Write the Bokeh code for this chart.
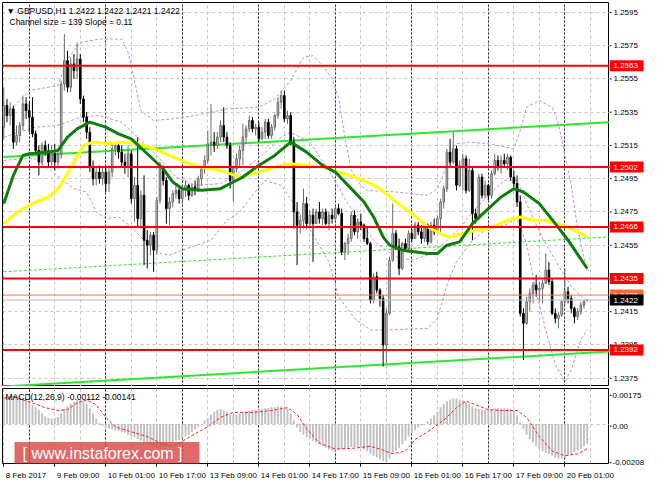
from bokeh.plotting import figure
from bokeh.models import (Range1d, FixedTicker, Grid, Label, Span, ColumnDataSource)
from bokeh.layouts import column, row
from bokeh.embed import file_html
from bokeh.resources import INLINE
from bokeh.core.properties import value

FONT = "Liberation Sans"

# ---------------- data ----------------
opens = [1.2526,1.2539,1.2533,1.2537,1.2517,1.2521,1.2527,1.2540,1.2536,1.2532,
1.2522,1.2512,1.2505,1.2515,1.2512,1.2505,1.2510,1.2505,1.2510,1.2552,
1.2566,1.2550,1.2564,1.2560,1.2567,1.2543,1.2532,1.2523,1.2502,1.2495,
1.2499,1.2495,1.2499,1.2492,1.2499,1.2513,1.2515,1.2511,1.2505,1.2503,
1.2510,1.2483,1.2491,1.2471,1.2485,1.2458,1.2455,1.2461,1.2452,1.2482,
1.2502,1.2494,1.2477,1.2481,1.2486,1.2488,1.2483,1.2488,1.2491,1.2485,
1.2490,1.2488,1.2495,1.2501,1.2506,1.2516,1.2517,1.2515,1.2520,1.2527,
1.2520,1.2515,1.2494,1.2501,1.2507,1.2512,1.2520,1.2525,1.2530,1.2525,
1.2526,1.2519,1.2523,1.2529,1.2521,1.2526,1.2533,1.2541,1.2545,1.2531,
1.2533,1.2517,1.2475,1.2467,1.2470,1.2480,1.2468,1.2473,1.2468,1.2475,
1.2471,1.2475,1.2468,1.2473,1.2471,1.2477,1.2474,1.2451,1.2456,1.2459,
1.2473,1.2463,1.2469,1.2467,1.2459,1.2456,1.2422,1.2436,1.2428,1.2423,
1.2395,1.2414,1.2446,1.2462,1.2454,1.2441,1.2456,1.2453,1.2462,1.2459,
1.2467,1.2463,1.2459,1.2467,1.2457,1.2467,1.2463,1.2471,1.2481,1.2489,
1.2511,1.2505,1.2513,1.2491,1.2503,1.2507,1.2488,1.2500,1.2474,1.2471,
1.2496,1.2485,1.2491,1.2485,1.2498,1.2506,1.2502,1.2506,1.2504,1.2508,
1.2496,1.2492,1.2481,1.2414,1.2408,1.2421,1.2426,1.2431,1.2428,1.2429,
1.2432,1.2440,1.2433,1.2414,1.2411,1.2413,1.2421,1.2427,1.2423,1.2417,
1.2412,1.2415,1.2419,1.2422]
highs = [1.2550,1.2543,1.2541,1.2539,1.2527,1.2529,1.2545,1.2544,1.2541,1.2544,
1.2524,1.2515,1.2517,1.2518,1.2516,1.2515,1.2516,1.2512,1.2554,1.2582,
1.2572,1.2568,1.2570,1.2577,1.2570,1.2545,1.2535,1.2526,1.2506,1.2502,
1.2503,1.2502,1.2502,1.2503,1.2516,1.2517,1.2517,1.2515,1.2510,1.2515,
1.2512,1.2496,1.2520,1.2488,1.2497,1.2464,1.2463,1.2463,1.2484,1.2505,
1.2503,1.2496,1.2484,1.2488,1.2491,1.2490,1.2491,1.2494,1.2492,1.2492,
1.2494,1.2497,1.2503,1.2509,1.2524,1.2540,1.2523,1.2523,1.2530,1.2538,
1.2523,1.2517,1.2503,1.2510,1.2515,1.2528,1.2527,1.2533,1.2532,1.2528,
1.2529,1.2526,1.2531,1.2531,1.2528,1.2534,1.2544,1.2548,1.2548,1.2536,
1.2535,1.2520,1.2481,1.2473,1.2489,1.2484,1.2476,1.2477,1.2477,1.2481,
1.2477,1.2477,1.2475,1.2477,1.2479,1.2480,1.2477,1.2457,1.2462,1.2475,
1.2476,1.2471,1.2474,1.2468,1.2466,1.2457,1.2438,1.2439,1.2429,1.2425,
1.2417,1.2448,1.2480,1.2464,1.2459,1.2457,1.2459,1.2464,1.2465,1.2469,
1.2469,1.2467,1.2469,1.2468,1.2469,1.2471,1.2473,1.2483,1.2491,1.2513,
1.2519,1.2523,1.2515,1.2506,1.2510,1.2509,1.2507,1.2502,1.2477,1.2498,
1.2498,1.2494,1.2492,1.2500,1.2510,1.2509,1.2509,1.2510,1.2510,1.2509,
1.2500,1.2497,1.2485,1.2417,1.2424,1.2429,1.2433,1.2437,1.2433,1.2434,
1.2450,1.2445,1.2435,1.2417,1.2415,1.2422,1.2441,1.2430,1.2425,1.2418,
1.2417,1.2421,1.2422,1.2422]
lows = [1.2519,1.2529,1.2527,1.2513,1.2515,1.2517,1.2524,1.2531,1.2523,1.2520,
1.2510,1.2497,1.2503,1.2509,1.2502,1.2503,1.2500,1.2501,1.2507,1.2548,
1.2547,1.2547,1.2555,1.2555,1.2540,1.2529,1.2519,1.2499,1.2491,1.2491,
1.2492,1.2491,1.2487,1.2487,1.2496,1.2509,1.2507,1.2502,1.2498,1.2496,
1.2480,1.2469,1.2466,1.2465,1.2443,1.2441,1.2449,1.2439,1.2449,1.2480,
1.2491,1.2468,1.2467,1.2478,1.2483,1.2480,1.2480,1.2484,1.2482,1.2484,
1.2485,1.2487,1.2491,1.2498,1.2504,1.2509,1.2511,1.2513,1.2517,1.2517,
1.2513,1.2489,1.2481,1.2499,1.2502,1.2503,1.2516,1.2523,1.2523,1.2521,
1.2517,1.2518,1.2519,1.2519,1.2519,1.2524,1.2531,1.2537,1.2529,1.2528,
1.2515,1.2465,1.2443,1.2462,1.2465,1.2465,1.2466,1.2445,1.2468,1.2468,
1.2467,1.2467,1.2464,1.2468,1.2470,1.2473,1.2449,1.2446,1.2449,1.2457,
1.2461,1.2459,1.2464,1.2457,1.2455,1.2420,1.2420,1.2426,1.2418,1.2382,
1.2384,1.2413,1.2445,1.2452,1.2437,1.2440,1.2451,1.2451,1.2457,1.2459,
1.2461,1.2456,1.2457,1.2455,1.2456,1.2461,1.2462,1.2463,1.2477,1.2487,
1.2502,1.2504,1.2488,1.2490,1.2488,1.2486,1.2487,1.2458,1.2468,1.2470,
1.2483,1.2483,1.2482,1.2483,1.2497,1.2500,1.2498,1.2502,1.2500,1.2494,
1.2490,1.2478,1.2412,1.2386,1.2407,1.2415,1.2420,1.2424,1.2421,1.2420,
1.2432,1.2431,1.2413,1.2408,1.2405,1.2412,1.2419,1.2420,1.2414,1.2408,
1.2410,1.2413,1.2417,1.2421]
closes = [1.2539,1.2533,1.2537,1.2517,1.2521,1.2527,1.2540,1.2536,1.2532,1.2522,
1.2512,1.2505,1.2515,1.2512,1.2505,1.2510,1.2505,1.2510,1.2552,1.2566,
1.2550,1.2564,1.2560,1.2567,1.2543,1.2532,1.2523,1.2502,1.2495,1.2499,
1.2495,1.2499,1.2492,1.2499,1.2513,1.2515,1.2511,1.2505,1.2503,1.2510,
1.2483,1.2491,1.2471,1.2485,1.2458,1.2455,1.2461,1.2452,1.2482,1.2502,
1.2494,1.2477,1.2481,1.2486,1.2488,1.2483,1.2488,1.2491,1.2485,1.2490,
1.2488,1.2495,1.2501,1.2506,1.2516,1.2517,1.2515,1.2520,1.2527,1.2520,
1.2515,1.2494,1.2501,1.2507,1.2512,1.2520,1.2525,1.2530,1.2525,1.2526,
1.2519,1.2523,1.2529,1.2521,1.2526,1.2533,1.2541,1.2545,1.2531,1.2533,
1.2517,1.2475,1.2467,1.2470,1.2480,1.2468,1.2473,1.2468,1.2475,1.2471,
1.2475,1.2468,1.2473,1.2471,1.2477,1.2474,1.2451,1.2456,1.2459,1.2473,
1.2463,1.2469,1.2467,1.2459,1.2456,1.2422,1.2436,1.2428,1.2423,1.2395,
1.2414,1.2446,1.2462,1.2454,1.2441,1.2456,1.2453,1.2462,1.2459,1.2467,
1.2463,1.2459,1.2467,1.2457,1.2467,1.2463,1.2471,1.2481,1.2489,1.2511,
1.2505,1.2513,1.2491,1.2503,1.2507,1.2488,1.2500,1.2474,1.2471,1.2496,
1.2485,1.2491,1.2485,1.2498,1.2506,1.2502,1.2506,1.2504,1.2508,1.2496,
1.2492,1.2481,1.2414,1.2408,1.2421,1.2426,1.2431,1.2428,1.2429,1.2432,
1.2440,1.2433,1.2414,1.2411,1.2413,1.2421,1.2427,1.2423,1.2417,1.2412,
1.2415,1.2419,1.2421,1.2422]
bars = list(range(len(closes)))

# moving averages (bar index, price)
green_bars = [0,3,6,8,14,17,20,23,27,32,36,40,45,50,53,56,62,68,72,75,80,85,90,95,100,104,108,113,116,119,
              121,125,133,136,139,143,147,152,156,160,163,168,173,177,183]
green_vals = [1.2480,1.2497,1.2509,1.2510,1.2511,1.2512,1.2520,1.2525,1.2529,1.2526,1.2522,1.2519,1.2510,1.2501,
              1.2493,1.2489,1.2488,1.2489,1.2493,1.2496,1.2503,1.2509,1.2517,1.2511,1.2503,1.2499,1.2491,1.2481,
              1.2472,1.2460,1.2455,1.2452,1.2450,1.2450,1.2455,1.2457,1.2468,1.2477,1.2484,1.2489,1.2487,1.2480,
              1.2468,1.2458,1.2441]
yellow_bars = [0,3,6,10,14,17,19,22,25,28,33,37,42,47,52,57,62,68,74,80,85,90,95,100,105,110,114,118,123,128,
               133,138,140,144,148,152,158,162,166,170,175,180,183]
yellow_vals = [1.2468,1.2473,1.2477,1.2481,1.2484,1.2489,1.2495,1.2505,1.2515,1.2517,1.2516,1.2517,1.2516,1.2513,
               1.2509,1.2505,1.2502,1.2500,1.2496,1.2499,1.2502,1.2504,1.2503,1.2502,1.2499,1.2496,1.2493,1.2489,
               1.2481,1.2474,1.2466,1.2461,1.2460,1.2462,1.2464,1.2465,1.2470,1.2472,1.2470,1.2470,1.2467,1.2463,
               1.2460]
# Bollinger bands (upper / middle / lower)
bbu_bars = [0,6,8,17,20,24,30,37,39,41,43,47,53,60,70,80,85,90,94,97,100,103,105,107,109,112,114,123,133,136,
            138,140,142,146,152,160,162,164,168,172,174,176,178,180,183]
bbu_vals = [1.2532,1.2544,1.2548,1.2551,1.2567,1.2577,1.2579,1.2579,1.2571,1.2554,1.2536,1.2530,1.2531,1.2533,
            1.2537,1.2538,1.2543,1.2554,1.2568,1.2569,1.2563,1.2555,1.2544,1.2520,1.2500,1.2491,1.2488,1.2487,
            1.2485,1.2489,1.2498,1.2513,1.2516,1.2517,1.2516,1.2513,1.2524,1.2538,1.2542,1.2538,1.2528,1.2509,
            1.2491,1.2465,1.2439]
bbm_bars = [0,10,17,24,30,37,42,48,54,60,68,75,81,87,90,96,102,107,111,117,123,128,133,138,143,148,152,157,
            161,164,169,173,178,183]
bbm_vals = [1.2520,1.2526,1.2527,1.2532,1.2533,1.2529,1.2520,1.2509,1.2496,1.2491,1.2492,1.2500,1.2509,1.2520,
            1.2523,1.2517,1.2500,1.2483,1.2471,1.2456,1.2448,1.2446,1.2449,1.2456,1.2465,1.2477,1.2485,1.2494,
            1.2494,1.2480,1.2459,1.2446,1.2430,1.2421]
bbl_bars = [0,6,10,18,22,26,29,32,36,40,43,49,52,56,62,65,70,74,78,82,87,91,98,102,105,110,115,120,133,136,
            139,142,147,151,157,161,164,167,170,173,176,178,181,183]
bbl_vals = [1.2506,1.2507,1.2507,1.2495,1.2489,1.2487,1.2475,1.2471,1.2472,1.2466,1.2460,1.2450,1.2449,1.2452,
            1.2456,1.2458,1.2470,1.2475,1.2485,1.2494,1.2491,1.2480,1.2458,1.2445,1.2424,1.2411,1.2404,1.2404,
            1.2405,1.2411,1.2431,1.2445,1.2458,1.2464,1.2467,1.2471,1.2456,1.2427,1.2404,1.2383,1.2373,1.2380,
            1.2398,1.2404]

# regression channel (start / end)
channel_bars = [0, 190]
channel_upper = [1.2508, 1.2529]
channel_mid = [1.2439, 1.2460]
channel_lower = [1.2370, 1.2391]

levels = [1.2563, 1.2502, 1.2466, 1.2435, 1.2392]
orange_level = 1.2425
bid_level = 1.2422

price_ticks = [1.2375, 1.2395, 1.2415, 1.2435, 1.2455, 1.2475, 1.2495, 1.2515, 1.2535, 1.2555, 1.2575, 1.2595]

time_ticks = [0, 16, 32, 48, 64, 80, 96, 112, 128, 144, 160, 176]
time_labels = ["8 Feb 2017", "9 Feb 09:00", "10 Feb 01:00", "10 Feb 17:00", "13 Feb 09:00", "14 Feb 01:00",
               "14 Feb 17:00", "15 Feb 09:00", "16 Feb 01:00", "16 Feb 17:00", "17 Feb 09:00", "20 Feb 01:00"]
grid_bars = list(range(0, 191, 8))
separator_bars = [8, 32, 56, 80, 104, 128, 152, 176]

macd_hist = [0.00148,0.00150,0.00155,0.00160,0.00165,0.00160,0.00150,0.00140,0.00125,0.00110,
0.00095,0.00080,0.00060,0.00045,0.00035,0.00030,0.00035,0.00040,0.00060,0.00085,
0.00100,0.00115,0.00125,0.00135,0.00140,0.00130,0.00115,0.00090,0.00060,0.00030,
0.00005,-0.00010,-0.00020,-0.00025,-0.00030,-0.00035,-0.00040,-0.00045,-0.00050,-0.00060,
-0.00070,-0.00075,-0.00085,-0.00095,-0.00105,-0.00115,-0.00125,-0.00130,-0.00135,-0.00130,
-0.00125,-0.00115,-0.00110,-0.00105,-0.00095,-0.00090,-0.00080,-0.00070,-0.00060,-0.00045,
-0.00030,-0.00015,0.00000,0.00020,0.00035,0.00055,0.00070,0.00080,0.00085,0.00080,
0.00070,0.00055,0.00050,0.00055,0.00060,0.00065,0.00070,0.00075,0.00080,0.00080,
0.00085,0.00085,0.00090,0.00090,0.00095,0.00095,0.00100,0.00100,0.00095,0.00085,
0.00060,0.00020,-0.00020,-0.00045,-0.00060,-0.00075,-0.00085,-0.00095,-0.00105,-0.00115,
-0.00125,-0.00135,-0.00145,-0.00150,-0.00150,-0.00145,-0.00145,-0.00140,-0.00135,-0.00130,
-0.00130,-0.00130,-0.00135,-0.00145,-0.00155,-0.00170,-0.00180,-0.00190,-0.00200,-0.00210,
-0.00215,-0.00195,-0.00170,-0.00150,-0.00135,-0.00115,-0.00095,-0.00070,-0.00050,-0.00035,
-0.00020,-0.00010,0.00000,0.00015,0.00030,0.00050,0.00070,0.00095,0.00115,0.00130,
0.00140,0.00145,0.00145,0.00140,0.00135,0.00125,0.00115,0.00100,0.00090,0.00085,
0.00080,0.00080,0.00080,0.00085,0.00090,0.00090,0.00090,0.00090,0.00088,0.00085,
0.00075,0.00050,0.00010,-0.00030,-0.00060,-0.00085,-0.00105,-0.00125,-0.00140,-0.00155,
-0.00165,-0.00170,-0.00180,-0.00190,-0.00195,-0.00195,-0.00190,-0.00180,-0.00170,-0.00160,
-0.00150,-0.00140,-0.00125,-0.00112]
sig_bars = [0,3,6,9,13,17,20,23,26,29,32,35,40,45,50,53,56,60,64,68,72,78,84,89,92,95,99,104,110,115,
            118,122,126,129,133,138,142,145,148,152,156,161,164,168,172,176,180,183]
sig_vals = [0.00148,0.00158,0.00137,0.00120,0.00093,0.00077,0.00082,0.00120,0.00137,0.00109,0.00038,-0.00016,
            -0.00044,-0.00071,-0.00115,-0.00126,-0.00098,-0.00055,-0.00016,0.00038,0.00066,0.00066,0.00077,
            0.00093,0.00055,-0.00027,-0.00109,-0.00142,-0.00137,-0.00126,-0.00142,-0.00169,-0.00153,-0.00087,
            -0.00044,0.00022,0.00093,0.00131,0.00109,0.00082,0.00077,0.00077,0.00038,-0.00071,-0.00153,
            -0.00180,-0.00169,-0.00141]
macd_ticks = [0.00175, 0.0, -0.00208]
macd_tick_labels = ["0.00175", "0.00", "-0.00208"]

# ---------------- layout ----------------
FW = 607          # frame width of the panels
MAIN_H = 384
MACD_H = 75
RB = 39           # width of the right-hand price-scale column
GAP = 2           # gap between price frame and MACD frame
EXT_T = 2         # MACD scale column reaches this far above the MACD frame
EXT_B = 7         # ... and this far below it
X0, X1 = -0.4, 190.0
PY0, PY1 = 1.2370, 1.2601
MY0, MY1 = -0.00224, 0.00202
xr = Range1d(X0, X1)
pyr = Range1d(PY0, PY1)

GRID_C = "#c4c4c4"


def base_fig(x_axis_location=None, **kw):
    f = figure(output_backend="svg", toolbar_location=None, x_axis_location=x_axis_location,
               y_axis_location=None, background_fill_color="white", border_fill_color="white", **kw)
    f.grid.visible = False
    return f


def add_vgrid(fig):
    fig.add_layout(Grid(dimension=0, ticker=FixedTicker(ticks=grid_bars),
                        grid_line_color=GRID_C, grid_line_dash="3 3", grid_line_width=1))
    fig.add_layout(Grid(dimension=0, ticker=FixedTicker(ticks=separator_bars),
                        grid_line_color="#202020", grid_line_dash="2 2", grid_line_width=1))


# ---- main price panel ----
p = base_fig(frame_width=FW, frame_height=MAIN_H, x_range=xr, y_range=pyr,
             min_border_left=2, min_border_right=0, min_border_top=2, min_border_bottom=0)
p.outline_line_color = "black"
p.outline_line_width = 1
add_vgrid(p)
p.add_layout(Grid(dimension=1, ticker=FixedTicker(ticks=price_ticks),
                  grid_line_color=GRID_C, grid_line_dash="3 3"))

band_c = "#c88ae6"
p.line(bbu_bars, bbu_vals, line_color=band_c, line_dash="3 2", line_width=1)
p.line(bbm_bars, bbm_vals, line_color=band_c, line_dash="3 2", line_width=1)
p.line(bbl_bars, bbl_vals, line_color=band_c, line_dash="3 2", line_width=1)

lime = "#2ee82e"
p.line(channel_bars, channel_upper, line_color=lime, line_width=2)
p.line(channel_bars, channel_lower, line_color=lime, line_width=2)
p.line(channel_bars, channel_mid, line_color=lime, line_width=1, line_dash="3 2")

up = [c >= o for o, c in zip(opens, closes)]
src = ColumnDataSource(dict(
    x=bars, h=highs, l=lows,
    top=[max(o, c) for o, c in zip(opens, closes)],
    bot=[min(o, c) for o, c in zip(opens, closes)],
    fill=["#d4d4d4" if u else "black" for u in up],
    edge=["#6a6a6a" if u else "black" for u in up],
))
p.segment(x0="x", y0="l", x1="x", y1="h", line_color="edge", line_width=1, source=src)
p.vbar(x="x", width=0.5, top="top", bottom="bot", fill_color="fill", line_color="edge",
       line_width=1, source=src)

p.line(yellow_bars, yellow_vals, line_color="#ffff00", line_width=3)
p.line(green_bars, green_vals, line_color="#0d7d0d", line_width=3)

for lv in levels:
    p.add_layout(Span(location=lv, dimension="width", line_color="#ff0000", line_width=2))
p.add_layout(Span(location=orange_level, dimension="width", line_color="#ff7043", line_width=1))
p.add_layout(Span(location=bid_level, dimension="width", line_color="#bdbdbd", line_width=1))

p.add_layout(Label(x=4, y=MAIN_H - 3, x_units="screen", y_units="screen",
                   text="\u25BC GBPUSD,H1  1.2422 1.2422 1.2421 1.2422",
                   text_font=FONT, text_font_size="8.5px", text_color="black", text_baseline="top"))
p.add_layout(Label(x=7, y=MAIN_H - 14, x_units="screen", y_units="screen",
                   text="Channel size = 139 Slope = 0.11",
                   text_font=FONT, text_font_size="8.5px", text_color="black", text_baseline="top"))

# ---- price scale column (right of main panel) ----
pl = base_fig(frame_width=RB, frame_height=MAIN_H, x_range=Range1d(0, RB), y_range=pyr,
              min_border_left=0, min_border_right=0, min_border_top=2, min_border_bottom=0,
              outline_line_color=None)
n_pt = len(price_ticks)
pl.segment(x0=[0] * n_pt, y0=price_ticks, x1=[2] * n_pt, y1=price_ticks, line_color="black", line_width=1)
pl.text(x=[4] * n_pt, y=price_ticks, text=[f"{t:.4f}" for t in price_ticks],
        text_font=value(FONT), text_font_size="8px", text_color="black",
        text_align="left", text_baseline="middle")


def price_tag(fig, y, fill):
    fig.rect(x=[17], y=[y], width=34, height=11, height_units="screen",
             fill_color=fill, line_color=None)
    fig.text(x=[4], y=[y], text=[f"{y:.4f}"], text_font=value(FONT), text_font_size="8px",
             text_color="white", text_align="left", text_baseline="middle")


for lv in levels:
    price_tag(pl, lv, "#ff0000")
price_tag(pl, orange_level, "#ff6a3d")
price_tag(pl, bid_level, "black")

# ---- MACD panel ----
m = base_fig(x_axis_location="below", frame_width=FW, frame_height=MACD_H, x_range=xr,
             y_range=Range1d(MY0, MY1),
             min_border_left=2, min_border_right=0, min_border_top=GAP, min_border_bottom=EXT_B)
m.outline_line_color = "black"
m.outline_line_width = 1
mx = m.xaxis[0]
mx.ticker = FixedTicker(ticks=time_ticks)
mx.major_tick_out = 3
mx.major_tick_in = 0
mx.minor_tick_out = 0
mx.minor_tick_in = 0
mx.axis_line_color = None
mx.major_label_standoff = 0
mx.major_label_text_font_size = "1px"
mx.major_label_text_alpha = 0
add_vgrid(m)
m.add_layout(Grid(dimension=1, ticker=FixedTicker(ticks=[0.0]), grid_line_color=GRID_C, grid_line_dash="3 3"))

m.vbar(x=bars, top=macd_hist, bottom=0, width=0.6, fill_color="#c0c0c0", line_color=None)
m.line(sig_bars, sig_vals, line_color="#ff2020", line_dash="3 2", line_width=1)

m.add_layout(Label(x=3, y=MACD_H - 3, x_units="screen", y_units="screen",
                   text="MACD(12,26,9) -0.00112 -0.00141",
                   text_font=FONT, text_font_size="8.5px", text_color="black", text_baseline="top"))
m.add_layout(Label(x=12, y=10, x_units="screen", y_units="screen",
                   text="[  www.instaforex.com  ]",
                   text_font=FONT, text_font_size="16px", text_color="white", text_baseline="middle",
                   background_fill_color="#d94848", background_fill_alpha=0.82, padding=(8, 3)))

# ---- MACD scale column ----
px_v = (MY1 - MY0) / MACD_H
ml = base_fig(frame_width=RB, frame_height=MACD_H + EXT_T + EXT_B, x_range=Range1d(0, RB),
              y_range=Range1d(MY0 - EXT_B * px_v, MY1 + EXT_T * px_v),
              min_border_left=0, min_border_right=0, min_border_top=GAP - EXT_T, min_border_bottom=0,
              outline_line_color=None)
n_mt = len(macd_ticks)
ml.segment(x0=[0] * n_mt, y0=macd_ticks, x1=[2] * n_mt, y1=macd_ticks, line_color="black", line_width=1)
ml.text(x=[3] * n_mt, y=macd_ticks, text=macd_tick_labels, text_font=value(FONT), text_font_size="8px",
        text_color="black", text_align="left", text_baseline="middle")

# ---- time label strip ----
SW = FW + RB
STRIP_H = 482 - (2 + MAIN_H) - (GAP + MACD_H + EXT_B)
s = base_fig(frame_width=SW, frame_height=STRIP_H, x_range=Range1d(X0, X0 + (X1 - X0) * SW / FW),
             y_range=Range1d(0, 1),
             min_border_left=2, min_border_right=0, min_border_top=0, min_border_bottom=0,
             outline_line_color=None)
s.text(x=time_ticks, y=[0.62] * len(time_ticks), text=time_labels, text_align="left",
       text_baseline="middle", text_font=value(FONT), text_font_size="8px", text_color="black",
       x_offset=2)

layout = column(row(p, pl, spacing=0), row(m, ml, spacing=0), s, spacing=0)
open("out.html", "w").write(file_html(layout, INLINE))
